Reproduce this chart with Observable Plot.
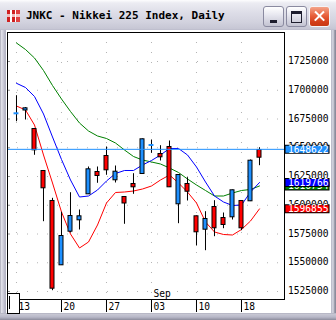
<!DOCTYPE html>
<html><head><meta charset="utf-8">
<script src="https://cdn.jsdelivr.net/npm/d3@7"></script>
<script src="https://cdn.jsdelivr.net/npm/@observablehq/plot@0.6"></script>
<style>
body{margin:0;background:#fff;}
#win{position:relative;width:336px;height:320px;overflow:hidden;background:linear-gradient(90deg,#8c8c9c 0px,#e4e4ec 1px,#d0d0dc 3px,#b4b4c4 5px,#b4b4c4 331px,#d8d8e2 333px,#8c8c9c 335px);}
#tb{position:absolute;left:0;top:0;width:336px;height:30px;background:linear-gradient(#fdfdfe 0px,#ececf2 3px,#dedee8 12px,#d2d2de 22px,#c6c6d4 29px,#b8b8c8 30px);}
#icon{position:absolute;left:7px;top:10px;width:13px;height:12px;background:
 linear-gradient(90deg,#d02020 0 3px,#fff 3px 5px,#d02020 5px 8px,#fff 8px 9px,#e04040 9px 13px);}
#icon2{position:absolute;left:7px;top:14px;width:13px;height:3px;background:#fff;opacity:.7}
#title{position:absolute;left:26px;top:9px;font:bold 11px "DejaVu Sans Mono",monospace;color:#000;white-space:nowrap;}
.btn{position:absolute;top:6px;width:19px;height:19px;border:1px solid #8a8aa0;border-radius:3px;background:linear-gradient(#ffffff,#e8e8f0 40%,#cfcfdc 80%,#c4c4d2);}
#bmin{left:263px}#bmax{left:286px}
#bclose{left:309px;border-color:#f4f4f8;background:linear-gradient(#f3a48a,#e8603c 45%,#d23c18 80%,#c83814);}
#bmin i{position:absolute;left:6px;top:13px;width:7px;height:3px;background:#1e1e2e}
#bmax i{position:absolute;left:4px;top:4px;width:9px;height:8px;border:1px solid #1e1e2e;border-top:3px solid #1e1e2e}
#bclose i,#bclose b{position:absolute;left:3px;top:8px;width:13px;height:2.4px;background:#fff;transform:rotate(45deg)}
#bclose b{transform:rotate(-45deg)}
#bottom{position:absolute;left:0;top:313px;width:336px;height:7px;background:linear-gradient(#a8a8b8 0px,#c8c8d4 1px,#b8b8c8 4px,#8c8c9c 7px);}
#chart{position:absolute;left:6px;top:30px;width:325px;height:283px;background:#fff;}
#thumb{position:absolute;left:7px;top:293px;width:11px;height:19px;border:1px solid #000;background:#fff;}
#thumb i{position:absolute;left:1px;top:2px;width:1px;height:13px;background:#000}
</style>
</head><body>
<div id="win">
  <div id="tb">
    <div id="icon"></div><div id="icon2"></div>
    <div id="title">JNKC - Nikkei 225 Index, Daily</div>
    <div class="btn" id="bmin"><i></i></div>
    <div class="btn" id="bmax"><i></i></div>
    <div class="btn" id="bclose"><i></i><b></b></div>
  </div>
  <div id="chart"></div>
  <div id="bottom"></div>
  <div id="thumb"><i></i></div>
</div>
<script>
// ---- data ----
const days = ["08/13","08/14","08/15","08/16","08/17","08/20","08/21","08/22","08/23","08/24",
  "08/27","08/28","08/29","08/30","08/31","09/03","09/04","09/05","09/06","09/07",
  "09/10","09/11","09/12","09/13","09/14","09/18","09/19","09/20"];
const open  = [1679090,1682390,1666300,1629780,1603700,1547780,1577000,1586910,1609520,1628910,
  1642830,1621700,1607170,1618480,1627170,1651520,1644570,1650650,1600830,1618480,
  1590390,1578740,1598480,1588910,1589520,1603700,1603440,1648040];
const high  = [1695260,1685000,1666740,1630220,1606040,1593870,1610910,1595870,1633260,1633260,
  1650650,1634130,1607610,1627440,1657610,1656740,1651780,1655870,1626500,1623960,
  1590650,1594390,1603960,1593260,1613260,1604000,1639350,1650040];
const low   = [1672650,1674130,1643440,1585700,1525700,1547610,1575870,1578480,1609350,1619090,
  1626040,1619350,1583440,1609520,1626800,1645170,1638480,1615440,1583960,1603700,
  1564570,1560480,1572650,1579610,1587170,1577870,1603200,1634390];
const close = [1679960,1684300,1647780,1614740,1527440,1573260,1590650,1590390,1631260,1625440,
  1630390,1629170,1601520,1615610,1657350,1652390,1641700,1615610,1626300,1611780,
  1576480,1588040,1579960,1582830,1613000,1579960,1638740,1641350];
const maShort = [1686300,1682830,1669780,1643700,1619350,1594130,1575000,1562830,1568040,1582830,
  1601960,1611090,1611520,1612390,1614130,1616740,1621960,1626300,1619350,1611520,
  1601960,1585430,1576740,1574570,1574130,1578910,1586300,1596855];
const maMid = [1706040,1702390,1694570,1679350,1659350,1639780,1621960,1607170,1608040,1613260,
  1621090,1627610,1630220,1630220,1635000,1638910,1643700,1649350,1649350,1643700,
  1633260,1620220,1608040,1602830,1599780,1600220,1611520,1619766];
const maLong = [1741090,1735430,1728040,1717170,1704130,1692390,1681520,1671520,1664570,1660220,
  1658040,1654130,1648040,1642390,1639350,1637610,1635870,1632390,1628480,1622830,
  1617610,1612830,1608040,1608040,1610650,1612830,1613700,1616754];
const lastPrice = 1648622;
const yTicks = [1525000,1550000,1575000,1600000,1625000,1650000,1675000,1700000,1725000];
const weekStarts = ["08/13","08/20","08/27","09/03","09/10","09/18"];
const weekLabels = ["13","20","27","03","10","18"];
const monthStart = "09/03", monthLabel = "Sep";

// ---- build ----
const candles = days.map((d,i)=>({i, d, o:open[i], h:high[i], l:low[i], c:close[i]}));
const ma = days.map((d,i)=>({i, s:maShort[i], m:maMid[i], g:maLong[i]}));
const weeks = weekStarts.map((d,k)=>({i: days.indexOf(d), label: weekLabels[k]}));
const month = [{i: days.indexOf(monthStart), label: monthLabel}];
const tags = [
  {v: lastPrice, color: "#1e90ff"},
  {v: maLong[maLong.length-1], color: "#008000"},
  {v: maMid[maMid.length-1], color: "#0000ff"},
  {v: maShort[maShort.length-1], color: "#ff0000"}
];
const xDomain = [-1, 29.7778];
const yDomain = [1518043.5, 1750217.4];
const pxY = 267 / (yDomain[1]-yDomain[0]);
const bodyHalf = 2/9;
const BLUE = "#1e90ff", RED = "#ff0000";
const isDoji = d => Math.abs(d.o-d.c)*pxY < 1.6;

const marks = [
  Plot.ruleY(yTicks, {stroke:"#b4b4b4", strokeDasharray:"1,9"}),
  Plot.ruleX(weeks, {x:"i", stroke:"#b4b4b4", strokeDasharray:"1,9"}),
  Plot.ruleY(yTicks, {x1: xDomain[0], x2: xDomain[0]+0.33, stroke:"#909090"}),
  Plot.line(ma, {x:"i", y:"g", stroke:"#008000", strokeWidth:1}),
  Plot.line(ma, {x:"i", y:"m", stroke:"#0000ff", strokeWidth:1}),
  Plot.line(ma, {x:"i", y:"s", stroke:"#ff0000", strokeWidth:1}),
  Plot.ruleX(candles, {x:"i", y1:"l", y2:"h", stroke:"black"}),
  Plot.rect(candles.filter(d=>!isDoji(d)), {x1:d=>d.i-bodyHalf, x2:d=>d.i+bodyHalf, y1:"o", y2:"c",
    fill:d=>d.c>=d.o?BLUE:RED, stroke:"black"}),
  Plot.rect(candles.filter(isDoji), {x1:d=>d.i-bodyHalf-0.05, x2:d=>d.i+bodyHalf+0.05, y1:"o", y2:"c",
    fill:BLUE, insetTop:-0.5, insetBottom:-0.5}),
  Plot.ruleY([lastPrice], {stroke:"#1e90ff"}),
  Plot.frame({stroke:"black"}),
  Plot.text(yTicks, {y:d=>d, text:d=>String(d), frameAnchor:"right", textAnchor:"start", lineAnchor:"bottom", dx:3.5, dy:2.5, fill:"black"}),
  Plot.ruleX(weeks, {x:"i", y1:yDomain[0], y2:yDomain[0]-13/pxY, stroke:"black"}),
  Plot.text(weeks, {x:"i", text:"label", frameAnchor:"bottom", textAnchor:"start", lineAnchor:"bottom", dx:2, dy:10, fill:"black"}),
  Plot.text(month, {x:"i", text:"label", frameAnchor:"bottom", textAnchor:"start", lineAnchor:"bottom", dx:2, dy:-3, fill:"black"})
];
for (const t of tags) {
  marks.push(Plot.ruleY([t.v], {x1:xDomain[1]+0.06, x2:xDomain[1]+5.06, stroke:"#000", strokeWidth:9}));
  marks.push(Plot.ruleY([t.v], {x1:xDomain[1]+0.17, x2:xDomain[1]+4.95, stroke:t.color, strokeWidth:7}));
  marks.push(Plot.text([t.v], {y:d=>d, text:d=>String(d), frameAnchor:"right", textAnchor:"start", lineAnchor:"bottom", dx:3.5, dy:3.5, fill:"white"}));
}

const chart = Plot.plot({
  width:325, height:283, marginLeft:1, marginRight:47, marginTop:2, marginBottom:14,
  x:{type:"linear", domain:xDomain, axis:null},
  y:{type:"linear", domain:yDomain, axis:null},
  style:{fontFamily:"'DejaVu Sans Mono', monospace", fontSize:"9.6px", background:"white", color:"black", overflow:"visible"},
  marks
});
document.getElementById("chart").appendChild(chart);
</script>
</body></html>
